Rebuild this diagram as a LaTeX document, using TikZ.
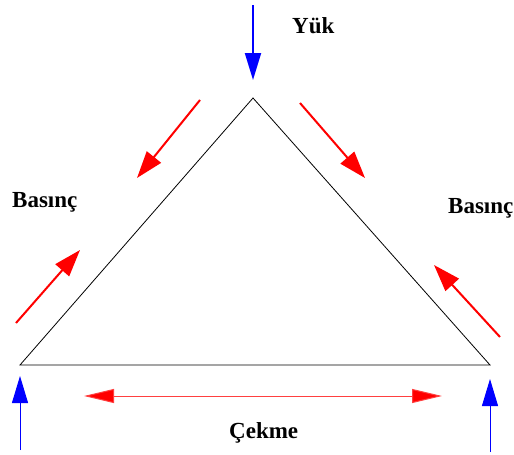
\documentclass[tikz,border=0pt]{standalone}
\usepackage{fontspec}
\setmainfont{Liberation Serif}
\usetikzlibrary{arrows.meta}

\tikzset{
	kuvvet/.style={draw=blue, line width=1pt, -{Triangle[length=27pt, width=16pt]}},
	basinc/.style={draw=red, line width=2pt, -{Triangle[length=27pt, width=18pt]}},
	cekme/.style={draw=red!75, line width=1pt, {Triangle[length=30pt, width=14pt, fill=red]}-{Triangle[length=30pt, width=14pt, fill=red]}},
	etiket/.style={font=\fontsize{23}{26}\selectfont\bfseries, anchor=base west, inner sep=0pt}
}

\begin{document}
\begin{tikzpicture}[x=1pt, y=-1pt]
	\useasboundingbox (0,0) rectangle (514,455);
	
	% kafes
	\coordinate (tepe) at (253,98);
	\coordinate (solalt) at (20,365);
	\coordinate (sagalt) at (490,365);
	\draw[line width=0.8pt] (solalt) -- (tepe) -- (sagalt) -- cycle;
	
	% yuk ve mesnetler
	\coordinate (yukbas) at (253,5);
	\coordinate (yukuc) at (253,80);
	\draw[kuvvet, line width=2pt] (yukbas) -- (yukuc);
	\coordinate (solmesnet) at (20,450);
	\coordinate (solmesnetuc) at (20,376);
	\draw[kuvvet] (solmesnet) -- (solmesnetuc);
	\coordinate (sagmesnet) at (490,452);
	\coordinate (sagmesnetuc) at (490,379);
	\draw[kuvvet] (sagmesnet) -- (sagmesnetuc);
	
	% basinc oklari
	\coordinate (a1) at (200,100); \coordinate (a2) at (137,178);
	\coordinate (b1) at (16,323);  \coordinate (b2) at (80,250);
	\coordinate (c1) at (300,103); \coordinate (c2) at (365,178);
	\coordinate (d1) at (500,337); \coordinate (d2) at (434,265);
	\draw[basinc] (a1) -- (a2);
	\draw[basinc] (b1) -- (b2);
	\draw[basinc] (c1) -- (c2);
	\draw[basinc] (d1) -- (d2);
	
	% cekme oku
	\coordinate (e1) at (84,396);
	\coordinate (e2) at (442,396);
	\draw[cekme] (e1) -- (e2);
	
	\node[etiket] (yuk) at (292,33) {Yük};
	\node[etiket] (basincsol) at (12,207) {Basınç};
	\node[etiket] (basincsag) at (448,213) {Basınç};
	\node[etiket] (cekmeyazi) at (229,438) {Çekme};
\end{tikzpicture}
\end{document}
